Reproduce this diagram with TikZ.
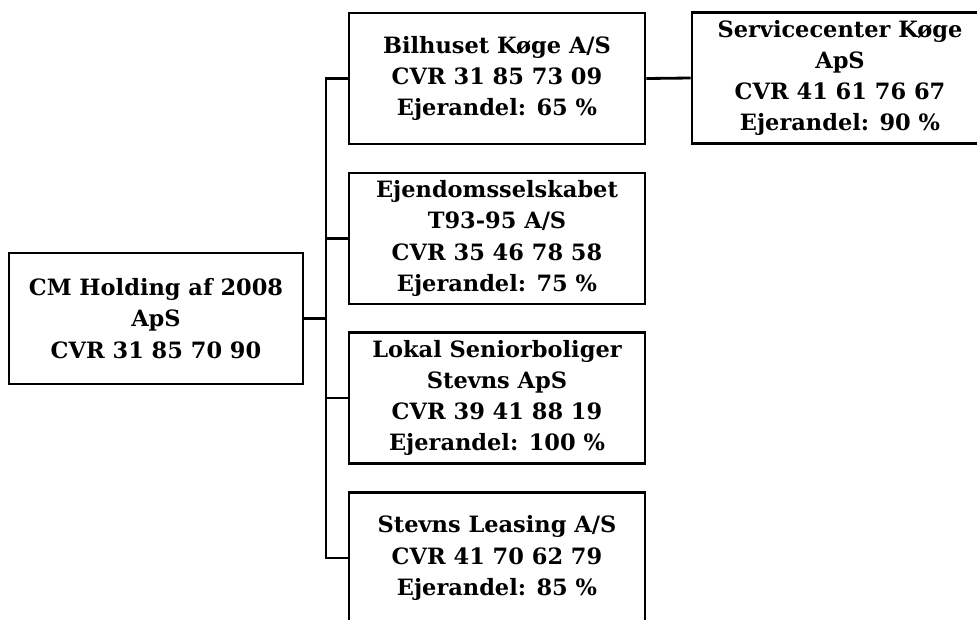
\documentclass[tikz,border=0pt]{standalone}
\usepackage{fontspec}
\setmainfont{DejaVu Serif}
\usetikzlibrary{positioning}
\tikzset{
  font=\bfseries\fontsize{12.8}{17.8}\selectfont,
  box/.style={draw=black, line width=1.6pt, fill=white, align=center,
              minimum width=5.92cm, minimum height=2.62cm, inner sep=0pt},
  link/.style={draw=black, line width=1.6pt},
}
\begin{document}
\begin{tikzpicture}[x=0.02cm, y=-0.02cm]
\useasboundingbox (0,0) rectangle (977,619);
\clip (0,0) rectangle (977,619);
% companies
\node[box, minimum width=5.88cm] (root) at (156,318.5) {CM Holding af 2008\\ApS\\CVR 31 85 70 90};
\node[box] (bil) at (497,78.5) {Bilhuset Køge A/S\\CVR 31 85 73 09\\Ejerandel: 65 \%};
\node[box] (svc) at (840,78) {Servicecenter Køge\\ApS\\CVR 41 61 76 67\\Ejerandel: 90 \%};
\node[box] (ejd) at (497,238.5) {Ejendomsselskabet\\T93-95 A/S\\CVR 35 46 78 58\\Ejerandel: 75 \%};
\node[box] (lok) at (497,398) {Lokal Seniorboliger\\Stevns ApS\\CVR 39 41 88 19\\Ejerandel: 100 \%};
\node[box] (stv) at (497,558) {Stevns Leasing A/S\\CVR 41 70 62 79\\Ejerandel: 85 \%};
% ownership lines
\coordinate (trunk) at (326,318.5);
\draw[link] (root.east) -- (trunk);
\foreach \c in {bil,ejd,lok,stv} {\draw[link] (trunk) |- (\c.west);}
\draw[link] (bil.east) -- (svc.west);
\end{tikzpicture}
\end{document}
